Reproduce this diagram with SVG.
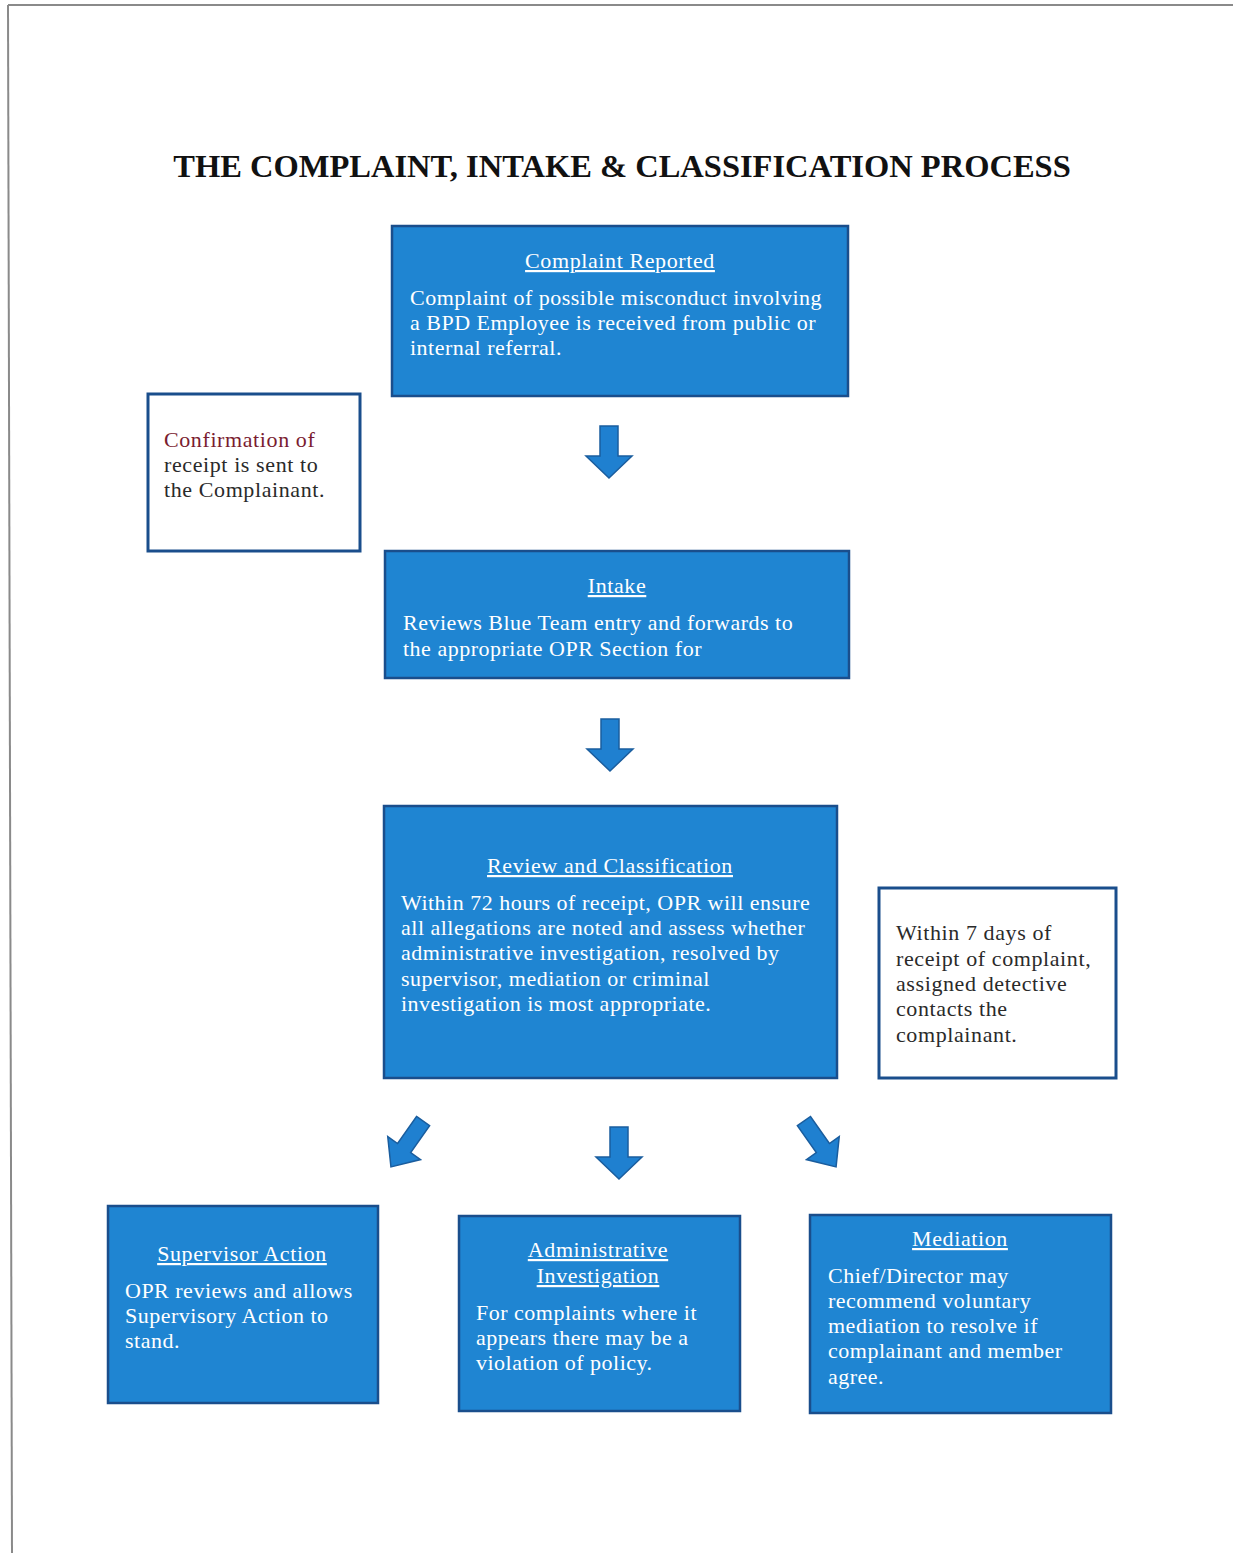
<svg xmlns="http://www.w3.org/2000/svg" width="1233" height="1553" viewBox="0 0 1233 1553">
<style>
.blue{fill:#1f85d2;stroke:#1a4e8c;stroke-width:2.5}
.white{fill:#ffffff;stroke:#1a4e8c;stroke-width:3}
.t{font-family:"Liberation Serif","Times New Roman",serif;font-size:22px;letter-spacing:0.5px;fill:#ffffff}
.h{font-family:"Liberation Serif","Times New Roman",serif;font-size:22px;letter-spacing:0.6px;fill:#ffffff;text-decoration:underline;text-anchor:middle}
.d{font-family:"Liberation Serif","Times New Roman",serif;font-size:22px;letter-spacing:0.6px;fill:#2a2a2a}
.title{font-family:"Liberation Serif","Times New Roman",serif;font-size:32.5px;font-weight:bold;fill:#111111;text-anchor:middle}
.arr{fill:#1f80d0;stroke:#1a5d9e;stroke-width:1.5}
</style>
<defs>
<path id="dn" d="M-9,-26 H9 V4 H23 L0,26 L-23,4 H-9 Z"/>
<path id="dg" d="M-8,-28 H8 V5 H20 L0,28 L-20,5 H-8 Z"/>
</defs>
<rect width="1233" height="1553" fill="#ffffff"/>
<g id="page-frame" fill="none" stroke="#8a8a8a" stroke-width="2">
<path d="M8,5 H1233"/>
<path d="M8,5 L12,1553"/>
</g>
<text class="title" x="622" y="177">THE COMPLAINT, INTAKE &amp; CLASSIFICATION PROCESS</text>
<g id="connectors">
<use href="#dn" class="arr" transform="translate(609,452)"/>
<use href="#dn" class="arr" transform="translate(610,745)"/>
<use href="#dn" class="arr" transform="translate(619,1153)"/>
<use href="#dg" class="arr" transform="translate(407,1144) rotate(35)"/>
<use href="#dg" class="arr" transform="translate(820,1144) rotate(-35)"/>
</g>
<g id="complaint-reported">
<rect class="blue" x="392" y="226" width="456" height="170"/>
<text class="h" x="620" y="268">Complaint Reported</text>
<text class="t" x="410" y="305">Complaint of possible misconduct involving</text>
<text class="t" x="410" y="330">a BPD Employee is received from public or</text>
<text class="t" x="410" y="355">internal referral.</text>
</g>
<g id="confirmation">
<rect class="white" x="148" y="394" width="212" height="157"/>
<text class="d" x="164" y="447"><tspan fill="#7a1c30">Confirmation of</tspan></text>
<text class="d" x="164" y="472">receipt is sent to</text>
<text class="d" x="164" y="497">the Complainant.</text>
</g>
<g id="intake">
<rect class="blue" x="385" y="551" width="464" height="127"/>
<text class="h" x="617" y="593">Intake</text>
<text class="t" x="403" y="630">Reviews Blue Team entry and  forwards to</text>
<text class="t" x="403" y="656">the appropriate OPR Section for</text>
</g>
<g id="review-classification">
<rect class="blue" x="384" y="806" width="453" height="272"/>
<text class="h" x="610" y="873">Review and Classification</text>
<text class="t" x="401" y="910">Within 72 hours of receipt, OPR will ensure</text>
<text class="t" x="401" y="935">all allegations are noted and assess whether</text>
<text class="t" x="401" y="960">administrative investigation, resolved by</text>
<text class="t" x="401" y="986">supervisor, mediation or criminal</text>
<text class="t" x="401" y="1011">investigation is most appropriate.</text>
</g>
<g id="within-7-days">
<rect class="white" x="879" y="888" width="237" height="190"/>
<text class="d" x="896" y="940">Within 7 days of</text>
<text class="d" x="896" y="966">receipt of complaint,</text>
<text class="d" x="896" y="991">assigned detective</text>
<text class="d" x="896" y="1016">contacts the</text>
<text class="d" x="896" y="1042">complainant.</text>
</g>
<g id="supervisor-action">
<rect class="blue" x="108" y="1206" width="270" height="197"/>
<text class="h" x="242" y="1261">Supervisor Action</text>
<text class="t" x="125" y="1298">OPR reviews and allows</text>
<text class="t" x="125" y="1323">Supervisory Action to</text>
<text class="t" x="125" y="1348">stand.</text>
</g>
<g id="administrative-investigation">
<rect class="blue" x="459" y="1216" width="281" height="195"/>
<text class="h" x="598" y="1257">Administrative</text>
<text class="h" x="598" y="1283">Investigation</text>
<text class="t" x="476" y="1320">For complaints where it</text>
<text class="t" x="476" y="1345">appears there may be a</text>
<text class="t" x="476" y="1370">violation of policy.</text>
</g>
<g id="mediation">
<rect class="blue" x="810" y="1215" width="301" height="198"/>
<text class="h" x="960" y="1246">Mediation</text>
<text class="t" x="828" y="1283">Chief/Director may</text>
<text class="t" x="828" y="1308">recommend voluntary</text>
<text class="t" x="828" y="1333">mediation to resolve if</text>
<text class="t" x="828" y="1358">complainant and member</text>
<text class="t" x="828" y="1384">agree.</text>
</g>
</svg>
